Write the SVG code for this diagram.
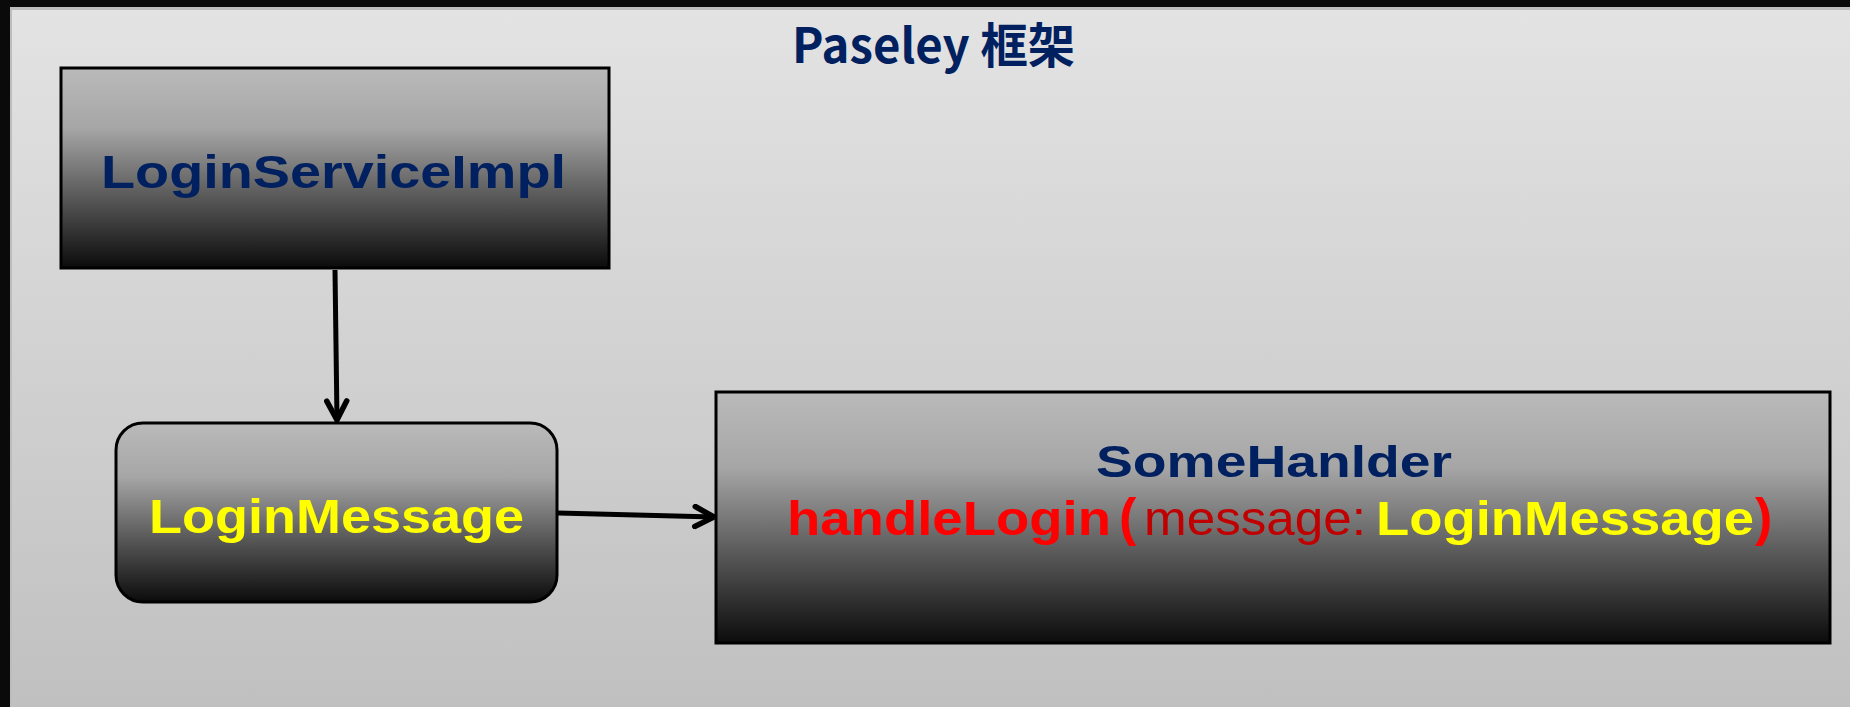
<svg xmlns="http://www.w3.org/2000/svg" width="1850" height="707" viewBox="0 0 1850 707">
<defs>
<linearGradient id="bg" x1="0" y1="0" x2="0" y2="1">
<stop offset="0" stop-color="#e3e3e3"/>
<stop offset="1" stop-color="#c0c0c0"/>
</linearGradient>
<linearGradient id="boxfill" x1="0" y1="0" x2="0" y2="1">
<stop offset="0" stop-color="#bababa"/>
<stop offset="0.3" stop-color="#a6a6a6"/>
<stop offset="0.62" stop-color="#5e5e5e"/>
<stop offset="1" stop-color="#0b0b0b"/>
</linearGradient>
<marker id="arr" markerUnits="userSpaceOnUse" viewBox="-24 -13 28 26" refX="0" refY="0" markerWidth="28" markerHeight="26" orient="auto">
<path d="M-19,-10 L0,0 L-19,10" fill="none" stroke="#000" stroke-width="5.5" stroke-linecap="round" stroke-linejoin="miter"/>
</marker>
</defs>
<style>
.box{fill:url(#boxfill);stroke:#000;stroke-width:3}
.navy{fill:#002060;font-family:"Liberation Sans",Arial,sans-serif;font-weight:bold}
.yel{fill:#ffff00;font-family:"Liberation Sans",Arial,sans-serif;font-weight:bold}
.red{fill:#ff0000;font-family:"Liberation Sans",Arial,sans-serif;font-weight:bold}
.dred{fill:#c00000;font-family:"Liberation Sans",Arial,sans-serif;font-weight:normal}
.conn{fill:none;stroke:#000;stroke-width:5;marker-end:url(#arr)}
</style>
<rect x="0" y="0" width="1850" height="707" fill="#0a0a0a"/>
<rect x="10" y="7" width="1840" height="700" fill="#bdbdbd"/>
<rect x="12" y="10" width="1838" height="697" fill="url(#bg)"/>
<text x="792" y="63" font-family="'Noto Sans CJK SC','Noto Sans',sans-serif" font-weight="bold" font-size="48" fill="#002060" textLength="283" lengthAdjust="spacingAndGlyphs">Paseley 框架</text>
<g id="connectors">
<path class="conn" d="M335,270 L337,420"/>
<path class="conn" d="M558,513 L714,517"/>
</g>
<g id="LoginServiceImpl">
<rect class="box" x="61" y="68" width="548" height="200"/>
<text class="navy" x="101" y="188" font-size="47" textLength="465" lengthAdjust="spacingAndGlyphs">LoginServiceImpl</text>
</g>
<g id="LoginMessage">
<rect class="box" x="116" y="423" width="441" height="179" rx="27" ry="27"/>
<text class="yel" x="149" y="533" font-size="49" textLength="375" lengthAdjust="spacingAndGlyphs">LoginMessage</text>
</g>
<g id="SomeHanlder">
<rect class="box" x="716" y="392" width="1114" height="251"/>
<text class="navy" x="1096" y="477" font-size="45" textLength="356" lengthAdjust="spacingAndGlyphs">SomeHanlder</text>
<text class="red" x="787" y="535" font-size="49" textLength="324" lengthAdjust="spacingAndGlyphs">handleLogin</text>
<text class="red" x="1119" y="535" font-size="52">(</text>
<text class="dred" x="1144" y="535" font-size="49" textLength="222" lengthAdjust="spacingAndGlyphs">message:</text>
<text class="yel" x="1376" y="535" font-size="49" textLength="378" lengthAdjust="spacingAndGlyphs">LoginMessage</text>
<text class="red" x="1755" y="535" font-size="52">)</text>
</g>
</svg>
